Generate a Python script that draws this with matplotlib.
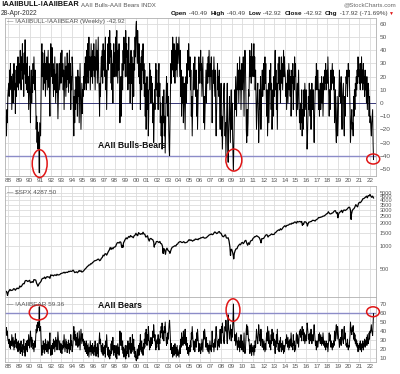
import numpy as np
import pandas as pd
import matplotlib
matplotlib.use("Agg")
import matplotlib.pyplot as plt
from matplotlib.patches import Ellipse
from matplotlib import font_manager

# ---------------- data (semi-monthly readings, Oct-1987 .. Apr-2022) ----------------
bulls_bears = [
    -10, -25, -5, -15, 5, 10,
    15, 5, 25, 10, 30, 12, 20, -5, 8, 22, 0, 18, 30, 10, 25, -8, 15, 5, 28, 12, 20, 35, 10, 25,
    30, 15, 40, 20, 10, 35, 25, 45, 18, 30, 5, 38, 22, 48, 15, 30, 10, 25, 35, 8, 20, -5, 12, 28,
    5, -15, 10, 25, 0, 20, 8, 30, 15, 35, 22, 10, 25, 0, -20, -10, -30, -15, -35, -22, -30, -53, -15, -20,
    -25, 5, 35, 45, 20, 38, 10, 30, 15, 40, 22, 5, 30, 18, 35, 10, 25, 40, 12, 30, 5, -10, 20, 45,
    35, 20, 42, 15, 30, 5, 25, 10, 35, 18, 0, 22, 8, 30, 12, -12, 5, 20, 30, 10, 25, 38, 15, 30,
    40, 20, 30, 10, 25, -5, 15, 35, 20, 5, 28, 12, 38, 18, 30, 8, 25, 40, 15, 30, -5, 20, 10, 35,
    30, 15, -10, -25, 5, -15, 10, -5, 20, 0, 15, -10, 25, 5, 20, -15, 10, 30, 5, -20, 0, 15, -8, 10,
    5, 20, 10, 30, 15, 35, 25, 10, 40, 20, 45, 15, 30, 50, 25, 35, 10, 30, 45, 20, 35, 15, 40, 25,
    45, 20, 35, 10, 30, 48, 25, 40, 15, 35, 50, 20, 10, -10, 15, 5, 25, 35, 20, 40, 15, 45, 25, 30,
    40, 20, 50, 10, 25, -5, 15, 35, 45, 25, 50, 30, 55, 35, 45, 15, 40, 10, 30, 0, 35, 45, 20, 38,
    30, 50, 20, 45, 55, 35, 15, 40, 25, 45, 10, -15, 5, 20, -10, 15, 30, 10, 40, 25, 50, 30, 45, 20,
    55, 35, 45, 20, 40, 10, 35, 50, 15, 30, 0, 25, 40, 15, 35, -5, 20, 30, 5, 40, 25, 50, 35, 58,
    62, 45, 30, 55, 40, 20, 45, 15, 30, -5, 20, 35, 10, 40, 25, 45, 15, 30, 5, 25, -10, 15, -20, 5,
    20, -5, 10, -25, -10, 15, 30, 10, 25, 0, 20, 5, 15, -15, 0, -30, -15, 10, -5, 20, 30, 10, 25, 5,
    15, -5, 20, 30, 5, 15, -15, 0, -25, -10, -35, -20, 5, -15, 10, -25, -10, -38, -15, 5, 20, 0, 15, -10,
    5, -20, -35, -40, -15, 10, 30, 15, 40, 25, 50, 30, 20, 45, 35, 15, 40, 25, 50, 35, 20, 45, 30, 40,
    50, 35, 20, 40, 5, 25, -10, 15, 0, 20, -15, 5, 15, -5, -20, 10, 20, 0, 30, 15, 40, 25, 45, 30,
    20, 35, 10, 25, -10, 5, -25, -5, 15, 30, 10, 25, 35, 15, 5, 25, -10, 10, -20, 0, 20, 35, 15, 30,
    25, 40, 15, 30, 5, 20, 35, 10, -15, 5, -20, -5, 10, 25, 0, 20, 30, 15, 35, 20, 40, 25, 10, 30,
    20, 35, 5, -15, 10, 25, 15, 35, 20, 5, 25, -10, -25, -5, 15, 30, 10, 20, 5, 25, -10, -20, -5, 15,
    -25, -10, -35, -20, -5, 10, 15, -5, -25, -15, -40, -20, -5, 15, -30, -45, -20, -10, 5, -15, -30, -5, 10, -20,
    0, -25, -40, -51, -30, -10, 10, -5, 20, 5, -10, 15, 30, 10, 25, 0, 20, 35, 10, 25, -5, 15, 30, 10,
    20, 35, 10, -10, 25, 40, 30, 10, -20, -30, -5, -25, -15, 10, 5, 25, 40, 20, 35, 15, 45, 25, 35, 20,
    30, 45, 20, 35, 10, 25, 5, -20, -5, 10, 15, -10, -30, -15, 10, -5, 20, -20, 0, 15, 25, 5, 20, 30,
    10, 25, 35, 15, 30, 5, -10, 10, -25, -5, 15, -15, 5, 25, 10, 30, -5, 15, -20, 0, 10, -10, 20, 5,
    25, 40, 10, 25, -5, 15, -20, 5, 30, 15, 35, 10, 25, 0, 20, 35, 15, 30, 10, 25, 40, 20, 35, 25,
    20, 5, 15, -5, 10, 25, 0, 15, 30, 10, 25, 5, 20, -10, 5, 25, 15, 30, -5, 20, 10, 35, 20, 30,
    10, -10, 5, 15, -5, 10, 25, 5, -15, -5, -20, 0, -15, 10, -25, -5, -20, 0, 10, -10, 15, 5, -5, 10,
    -15, -35, -25, -10, 5, -5, 15, 0, -10, 10, -20, 5, 15, 0, -5, 10, -15, -30, -10, 5, 20, 10, 30, 15,
    10, 25, 15, -5, 10, -10, 5, 15, -5, 10, 20, 0, 15, -10, 5, 20, 10, 25, 15, 30, 10, 20, 25, 15,
    35, 20, 5, -10, 10, -5, 15, 25, 10, 20, 30, 15, 25, 10, 20, -15, -5, 10, -20, -30, -10, 5, -25, -15,
    0, 10, 25, 5, 15, 0, 20, -5, -20, 5, 10, 15, -15, -25, 5, -10, 10, 20, 15, 25, 5, 15, 30, 20,
    25, 10, -5, -30, -20, -10, -5, -20, -15, -25, 5, -10, 10, -5, 15, 5, 20, 10, 25, 15, 35, 20, 30, 15,
    25, 10, 30, 15, 35, 20, 25, 10, 30, 15, 20, 5, 25, 10, 15, 0, 20, -5, 5, 15, 10, -10, 5, -15,
    -10, -20, -25, -15, -10, -5, -30, -42.92,
]

bears = [
    38, 44, 35, 40, 31, 29,
    26, 31, 22, 29, 20, 28, 24, 36, 29, 23, 33, 25, 19, 29, 22, 37, 26, 31, 21, 28, 24, 17, 29, 22,
    19, 26, 15, 24, 29, 17, 22, 13, 25, 20, 31, 16, 23, 12, 26, 19, 29, 22, 17, 30, 24, 36, 28, 21,
    31, 40, 29, 22, 33, 24, 30, 20, 26, 17, 23, 29, 22, 34, 42, 38, 47, 40, 50, 44, 48, 67, 40, 43,
    45, 31, 17, 13, 24, 16, 29, 20, 26, 15, 23, 31, 19, 25, 17, 29, 22, 15, 28, 20, 31, 38, 24, 13,
    17, 24, 14, 26, 20, 31, 22, 29, 17, 25, 33, 23, 30, 19, 28, 39, 31, 24, 19, 29, 22, 16, 26, 19,
    15, 24, 20, 29, 22, 36, 26, 17, 24, 31, 21, 28, 16, 25, 20, 30, 22, 15, 26, 19, 36, 24, 29, 17,
    20, 26, 38, 45, 31, 40, 29, 36, 24, 33, 26, 38, 22, 31, 24, 40, 29, 19, 31, 42, 33, 26, 37, 29,
    31, 24, 29, 20, 26, 17, 22, 29, 15, 24, 13, 26, 19, 11, 22, 17, 29, 20, 13, 24, 17, 26, 15, 22,
    13, 24, 17, 29, 19, 12, 22, 15, 26, 17, 11, 24, 29, 38, 26, 31, 22, 17, 24, 15, 26, 13, 22, 20,
    15, 24, 11, 29, 22, 36, 26, 17, 13, 22, 11, 19, 9, 17, 13, 26, 15, 29, 19, 33, 17, 13, 24, 16,
    20, 11, 24, 13, 9, 17, 26, 15, 22, 13, 29, 40, 31, 24, 38, 26, 19, 29, 15, 22, 11, 20, 13, 24,
    9, 17, 13, 24, 15, 29, 17, 11, 26, 20, 33, 22, 15, 26, 17, 36, 24, 19, 31, 15, 22, 11, 17, 8,
    7, 13, 20, 9, 15, 24, 13, 26, 19, 36, 24, 17, 29, 15, 22, 13, 26, 20, 31, 22, 38, 26, 42, 31,
    24, 36, 29, 45, 38, 26, 19, 29, 22, 33, 24, 31, 26, 40, 33, 47, 40, 29, 36, 24, 19, 29, 22, 31,
    26, 36, 24, 19, 31, 26, 40, 33, 45, 38, 49, 42, 31, 40, 29, 45, 38, 50, 40, 31, 24, 33, 26, 38,
    31, 42, 49, 52, 40, 29, 19, 26, 15, 22, 11, 19, 24, 13, 17, 26, 15, 22, 11, 17, 24, 13, 19, 15,
    11, 17, 24, 15, 31, 22, 38, 26, 33, 24, 40, 31, 26, 36, 42, 29, 24, 33, 19, 26, 15, 22, 13, 19,
    24, 17, 29, 22, 38, 31, 45, 36, 26, 19, 29, 22, 17, 26, 31, 22, 38, 29, 42, 33, 24, 17, 26, 19,
    22, 15, 26, 19, 31, 24, 17, 29, 40, 31, 42, 36, 29, 22, 33, 24, 19, 26, 17, 24, 15, 22, 29, 19,
    24, 17, 31, 40, 29, 22, 26, 17, 24, 31, 22, 38, 45, 36, 26, 19, 29, 24, 31, 22, 38, 42, 36, 26,
    45, 38, 49, 42, 36, 29, 26, 36, 45, 40, 52, 42, 36, 26, 47, 58, 42, 38, 31, 40, 47, 36, 29, 42,
    33, 45, 54, 70, 47, 38, 29, 36, 24, 31, 38, 26, 19, 29, 22, 33, 24, 17, 29, 22, 36, 26, 19, 29,
    24, 17, 29, 38, 22, 15, 19, 29, 42, 47, 36, 45, 40, 29, 31, 22, 15, 24, 17, 26, 13, 22, 17, 24,
    19, 13, 24, 17, 29, 22, 31, 42, 36, 29, 26, 38, 47, 40, 29, 36, 24, 42, 33, 26, 22, 31, 24, 19,
    29, 22, 17, 26, 19, 31, 38, 29, 45, 36, 26, 40, 31, 22, 29, 19, 36, 26, 42, 33, 29, 38, 24, 31,
    22, 15, 29, 22, 36, 26, 42, 31, 19, 26, 17, 29, 22, 33, 24, 17, 26, 19, 29, 22, 15, 24, 17, 22,
    24, 31, 26, 36, 29, 22, 33, 26, 19, 29, 22, 31, 24, 38, 31, 22, 26, 19, 36, 24, 29, 17, 24, 19,
    29, 38, 31, 26, 36, 29, 22, 31, 40, 36, 42, 33, 40, 29, 45, 36, 42, 33, 29, 38, 26, 31, 36, 29,
    40, 49, 45, 38, 31, 36, 26, 33, 38, 29, 42, 31, 26, 33, 36, 29, 40, 47, 38, 31, 24, 29, 19, 26,
    29, 22, 26, 36, 29, 38, 31, 26, 36, 29, 24, 33, 26, 38, 31, 24, 29, 22, 26, 19, 29, 24, 22, 26,
    17, 24, 31, 38, 29, 36, 26, 22, 29, 24, 19, 26, 22, 29, 24, 40, 36, 29, 42, 47, 38, 31, 45, 40,
    33, 29, 22, 31, 26, 33, 24, 36, 42, 31, 29, 26, 40, 45, 31, 38, 29, 24, 26, 22, 31, 26, 19, 24,
    22, 29, 36, 50, 43, 38, 36, 44, 40, 46, 31, 38, 29, 36, 26, 31, 24, 29, 22, 26, 17, 24, 19, 26,
    22, 29, 19, 26, 17, 24, 22, 29, 19, 26, 24, 31, 22, 29, 26, 33, 24, 36, 31, 26, 29, 38, 31, 40,
    38, 43, 47, 40, 38, 35, 48, 59.36,
]

# S&P 500 month-end closes, Oct-1987 .. Apr-2022
spx_monthly = [
    251.8, 230.3, 247.1,
    257.1, 267.8, 258.9, 261.3, 262.2, 273.5, 272.0, 261.5, 271.9, 279.0, 273.7, 277.7,
    297.5, 288.9, 294.9, 309.6, 320.5, 318.0, 346.1, 351.5, 349.2, 340.4, 346.0, 353.4,
    329.1, 331.9, 339.9, 330.8, 361.2, 358.0, 356.2, 322.6, 306.1, 304.0, 322.2, 330.2,
    343.9, 367.1, 375.2, 375.3, 389.8, 371.2, 387.8, 395.4, 387.9, 392.5, 375.2, 417.1,
    408.8, 412.7, 403.7, 415.0, 415.4, 408.1, 424.2, 414.0, 417.8, 418.7, 431.4, 435.7,
    438.8, 443.4, 451.7, 440.2, 450.2, 450.5, 448.1, 463.6, 458.9, 467.8, 461.8, 466.5,
    481.6, 467.1, 445.8, 450.9, 456.5, 444.3, 458.3, 475.5, 462.7, 472.4, 453.7, 459.3,
    470.4, 487.4, 500.7, 514.7, 533.4, 544.8, 562.1, 561.9, 584.4, 581.5, 605.4, 615.9,
    636.0, 640.4, 645.5, 654.2, 669.1, 670.6, 640.0, 652.0, 687.3, 705.3, 757.0, 740.7,
    786.2, 790.8, 757.1, 801.3, 848.3, 885.1, 954.3, 899.5, 947.3, 914.6, 955.4, 970.4,
    980.3, 1049.3, 1101.8, 1111.8, 1090.8, 1133.8, 1120.7, 957.3, 1017.0, 1098.7, 1163.6, 1229.2,
    1279.6, 1238.3, 1286.4, 1335.2, 1301.8, 1372.7, 1328.7, 1320.4, 1282.7, 1362.9, 1388.9, 1469.3,
    1394.5, 1366.4, 1498.6, 1452.4, 1420.6, 1454.6, 1430.8, 1517.7, 1436.5, 1429.4, 1315.2, 1320.3,
    1366.0, 1239.9, 1160.3, 1249.5, 1255.8, 1224.4, 1211.2, 1133.6, 1040.9, 1059.8, 1139.5, 1148.1,
    1130.2, 1106.7, 1147.4, 1076.9, 1067.1, 989.8, 911.6, 916.1, 815.3, 885.8, 936.3, 879.8,
    855.7, 841.2, 848.2, 916.9, 963.6, 974.5, 990.3, 1008.0, 996.0, 1050.7, 1058.2, 1111.9,
    1131.1, 1144.9, 1126.2, 1107.3, 1120.7, 1140.8, 1101.7, 1104.2, 1114.6, 1130.2, 1173.8, 1211.9,
    1181.3, 1203.6, 1180.6, 1156.9, 1191.5, 1191.3, 1234.2, 1220.3, 1228.8, 1207.0, 1249.5, 1248.3,
    1280.1, 1280.7, 1294.9, 1310.6, 1270.1, 1270.2, 1276.7, 1303.8, 1335.9, 1377.9, 1400.6, 1418.3,
    1438.2, 1406.8, 1420.9, 1482.4, 1530.6, 1503.4, 1455.3, 1474.0, 1526.8, 1549.4, 1481.1, 1468.4,
    1378.6, 1330.6, 1322.7, 1385.6, 1400.4, 1280.0, 1267.4, 1282.8, 1166.4, 968.8, 896.2, 903.3,
    825.9, 735.1, 797.9, 872.8, 919.1, 919.3, 987.5, 1020.6, 1057.1, 1036.2, 1095.6, 1115.1,
    1073.9, 1104.5, 1169.4, 1186.7, 1089.4, 1030.7, 1101.6, 1049.3, 1141.2, 1183.3, 1180.6, 1257.6,
    1286.1, 1327.2, 1325.8, 1363.6, 1345.2, 1320.6, 1292.3, 1218.9, 1131.4, 1253.3, 1247.0, 1257.6,
    1312.4, 1365.7, 1408.5, 1397.9, 1310.3, 1362.2, 1379.3, 1406.6, 1440.7, 1412.2, 1416.2, 1426.2,
    1498.1, 1514.7, 1569.2, 1597.6, 1630.7, 1606.3, 1685.7, 1633.0, 1681.6, 1756.5, 1805.8, 1848.4,
    1782.6, 1859.5, 1872.3, 1884.0, 1923.6, 1960.2, 1930.7, 2003.4, 1972.3, 2018.1, 2067.6, 2058.9,
    1995.0, 2104.5, 2067.9, 2085.5, 2107.4, 2063.1, 2103.8, 1972.2, 1920.0, 2079.4, 2080.4, 2043.9,
    1940.2, 1932.2, 2059.7, 2065.3, 2097.0, 2098.9, 2173.6, 2171.0, 2168.3, 2126.2, 2199.0, 2238.8,
    2278.9, 2363.6, 2362.7, 2384.2, 2411.8, 2423.4, 2470.3, 2471.7, 2519.4, 2575.3, 2647.6, 2673.6,
    2823.8, 2713.8, 2640.9, 2648.1, 2705.3, 2718.4, 2816.3, 2901.5, 2914.0, 2711.7, 2760.2, 2506.9,
    2704.1, 2784.5, 2834.4, 2945.8, 2752.1, 2941.8, 2980.4, 2926.5, 2976.7, 3037.6, 3141.0, 3230.8,
    3225.5, 2954.2, 2584.6, 2912.4, 3044.3, 3100.3, 3271.1, 3500.3, 3363.0, 3270.0, 3621.6, 3756.1,
    3714.2, 3811.2, 3972.9, 4181.2, 4204.1, 4297.5, 4395.3, 4522.7, 4307.5, 4605.4, 4567.0, 4766.2,
    4515.6, 4373.9, 4530.4, 4287.5,
]
# intra-month extremes visible on the weekly line
spx_extra_dates = ['1987-12-04', '1990-10-11', '1998-10-08', '2001-09-21', '2002-07-23',
                   '2002-10-09', '2003-03-11', '2008-11-20', '2009-03-09', '2010-07-02',
                   '2011-10-03', '2015-08-25', '2016-02-11', '2018-12-24', '2020-03-23']
spx_extra_vals = [223.9, 295.5, 959.4, 965.8, 797.7, 776.8, 800.7, 752.4, 676.5, 1022.6,
                  1099.2, 1867.6, 1829.1, 2351.1, 2237.4]

year_ticks = list(range(1988, 2023))
year_labels = [f"{y % 100:02d}" for y in year_ticks]
spread_ticks = [-50, -40, -30, -20, -10, 0, 10, 20, 30, 40, 50, 60]
spx_ticks = [500, 1000, 1500, 2000, 2500, 3000, 3500, 4000, 4500, 5000]
bear_ticks = [10, 20, 30, 40, 50, 60, 70]


# ---------------- helpers ----------------
def decyear(idx):
    idx = pd.DatetimeIndex(idx)
    days = np.where(idx.is_leap_year, 366.0, 365.0)
    return idx.year + (idx.dayofyear - 1) / days


def make_range(start, n, freqs):
    for f in freqs:
        try:
            return pd.date_range(start, periods=n, freq=f)
        except Exception:
            continue
    raise RuntimeError("no freq")


sent_x = decyear(make_range('1987-10-15', len(bulls_bears), ['SME', 'SM']))
bear_x = decyear(make_range('1987-10-15', len(bears), ['SME', 'SM']))
spx_dates = list(make_range('1987-10-31', len(spx_monthly), ['ME', 'M'])) + \
    list(pd.to_datetime(spx_extra_dates))
spx_vals = list(spx_monthly) + list(spx_extra_vals)
order = np.argsort(np.array(spx_dates, dtype='datetime64[ns]'))
spx_x = decyear(pd.DatetimeIndex(np.array(spx_dates, dtype='datetime64[ns]')[order]))
spx_y = np.array(spx_vals)[order]

# ---------------- figure ----------------
W, H = 400, 374
installed = {f.name for f in font_manager.fontManager.ttflist}
NARROW = 'Liberation Sans Narrow' if 'Liberation Sans Narrow' in installed else 'Liberation Sans'
plt.rcParams['font.family'] = ['Liberation Sans', 'DejaVu Sans']
fig = plt.figure(figsize=(W / 100, H / 100), dpi=100)
fig.patch.set_facecolor('white')


def px_axes(x0, y0, x1, y1):
    return fig.add_axes([x0 / W, 1 - y1 / H, (x1 - x0) / W, (y1 - y0) / H])


XL, XR = 5, 376
ax1 = px_axes(XL, 18, XR, 176)
ax2 = px_axes(XL, 186, XR, 297)
ax3 = px_axes(XL, 297, XR, 362)

xlim = (1987.69, 2022.56)
GRID = '#dcdcdc'
TICKC = '#555555'
TS = 4.6

for ax in (ax1, ax2, ax3):
    ax.set_xlim(*xlim)
    ax.set_xticks(year_ticks)
    ax.set_xticklabels(year_labels)
    ax.grid(True, color=GRID, lw=0.6)
    ax.set_axisbelow(True)
    ax.yaxis.tick_right()
    ax.tick_params(length=0, labelsize=TS, labelcolor=TICKC, pad=2.5)
    ax.tick_params(axis='x', pad=1.5)
    for s in ax.spines.values():
        s.set_color('#b0b0b0')
        s.set_linewidth(0.6)
    ax.set_facecolor('white')

ax2.tick_params(axis='x', labelbottom=False)

# panel 1
ax1.plot(sent_x, bulls_bears, color='black', lw=0.7)
ax1.axhline(0, color='#3a3a7a', lw=0.7, zorder=1.5)
ax1.axhline(-40, color='#8c8cc8', lw=1.0, zorder=1.5)
ax1.set_ylim(-55.4, 64.5)
ax1.set_yticks(spread_ticks)

# panel 2
ax2.plot(spx_x, spx_y, color='black', lw=0.9)
ax2.set_yscale('log')
ax2.set_ylim(213, 6157)
ax2.set_yticks(spx_ticks)
ax2.set_yticklabels([str(t) for t in spx_ticks])
ax2.minorticks_off()
ax2.tick_params(axis='y', labelsize=4.0)

# panel 3
ax3.plot(bear_x, bears, color='black', lw=0.7)
ax3.axhline(60, color='#8c8cc8', lw=1.0, zorder=1.5)
ax3.set_ylim(5.6, 77.8)
ax3.set_yticks(bear_ticks)

# red ellipses
RED = '#e01515'
for ax, (cx, cy, w, h) in [
    (ax1, (1990.95, -46.0, 1.4, 21.0)),
    (ax1, (2009.2, -43.3, 1.5, 16.7)),
    (ax1, (2022.3, -42.5, 1.22, 7.6)),
    (ax3, (1990.82, 60.6, 1.7, 16.7)),
    (ax3, (2009.12, 63.3, 1.3, 25.0)),
    (ax3, (2022.28, 61.4, 1.2, 11.0)),
]:
    ax.add_patch(Ellipse((cx, cy), w, h, fill=False, edgecolor=RED, lw=1.1,
                         clip_on=False, zorder=5))


def ptext(x, y, s, **kw):
    return fig.text(x / W, 1 - y / H, s, va='center', **kw)


renderer = fig.canvas.get_renderer()


def width_px(t):
    return t.get_window_extent(renderer=renderer).width


# in-panel labels
ptext(7, 21, "\u2014 !AAIIBULL-!AAIIBEAR (Weekly) -42.92", fontsize=4.6, color='#555555')
ptext(7, 192, "\u2014 $SPX 4287.50", fontsize=4.6, color='#555555')
ptext(7, 304, "\u2014 !AAIIBEAR 59.36", fontsize=4.6, color='#555555')
ptext(98, 146, "AAII Bulls-Bears", fontsize=6.2, fontweight='bold', color='#111111')
ptext(98, 306, "AAII Bears", fontsize=6.2, fontweight='bold', color='#111111')

# header
t = ptext(1, 5, "!AAIIBULL-!AAIIBEAR", fontsize=6.4, fontweight='bold', color='#111111',
          family=[NARROW, 'Liberation Sans'])
w = width_px(t)
if w > 78:
    t.set_fontsize(6.4 * 78 / w)
    w = width_px(t)
ptext(1 + w + 2.5, 5.5, "AAII Bulls-AAII Bears INDX", fontsize=4.4, color='#555555')
ptext(1, 13.5, "28-Apr-2022", fontsize=4.8, color='#333333')
ptext(396, 5, "@StockCharts.com", fontsize=4.4, color='#666666', ha='right')

pieces = [("Open", 'bold', '#111111'), (" -40.49  ", 'normal', '#444444'),
          ("High", 'bold', '#111111'), (" -40.49  ", 'normal', '#444444'),
          ("Low", 'bold', '#111111'), (" -42.92  ", 'normal', '#444444'),
          ("Close", 'bold', '#111111'), (" -42.92  ", 'normal', '#444444'),
          ("Chg", 'bold', '#111111'), (" -17.92 (-71.69%) ", 'normal', '#444444'),
          ("\u25BC", 'normal', RED)]
objs = []
for s, wt, c in pieces:
    fs = 4.6 if s != "\u25BC" else 3.6
    objs.append(ptext(0, 13.5, s, fontsize=fs, fontweight=wt, color=c,
                      family=['Liberation Sans', 'DejaVu Sans']))
total = sum(width_px(o) for o in objs)
xcur = 394.0 - total
for o in objs:
    o.set_x(xcur / W)
    xcur += width_px(o)

fig.savefig('out.png', dpi=100, facecolor='white')
